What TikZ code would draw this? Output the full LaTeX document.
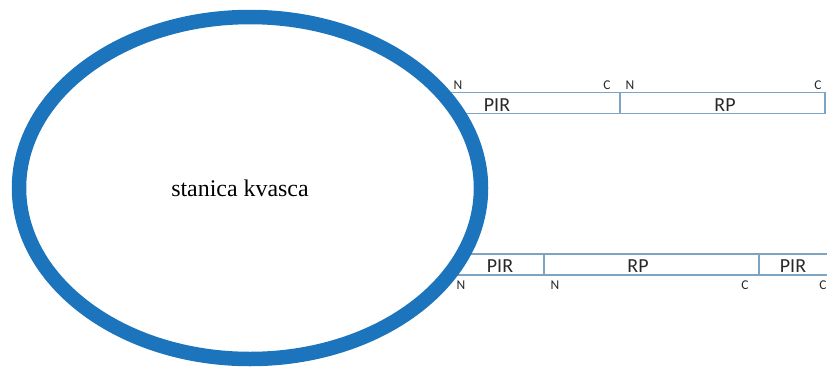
\documentclass[tikz,border=0pt]{standalone}
\usepackage{fontspec}
\setmainfont{Liberation Serif}
\newfontfamily\labfont{Carlito}
\definecolor{cellblue}{RGB}{28,117,188}
\definecolor{barline}{RGB}{125,165,195}
\definecolor{labtext}{RGB}{40,40,40}
\begin{document}
\begin{tikzpicture}[x=1bp,y=-1bp,
  seg/.style={draw=barline,line width=1.5bp,rectangle,inner sep=0pt,minimum height=21bp},
  dom/.style={font=\labfont\fontsize{20}{20}\selectfont,text=labtext,inner sep=0pt},
  term/.style={font=\labfont\fontsize{13.5}{13.5}\selectfont,text=labtext,inner sep=0pt},
  cell/.style={draw=cellblue,line width=14.5bp,fill=white}]
\useasboundingbox (0,0) rectangle (827,367);
% top chain
\node[seg,minimum width=180bp] (t1) at (530,103) {};
\node[seg,minimum width=205bp] (t2) at (722.5,103) {};
% bottom chain
\node[seg,minimum width=124bp] (b1) at (482,264.5) {};
\node[seg,minimum width=215bp] (b2) at (651.5,264.5) {};
\node[seg,minimum width=90bp] (b3) at (804,264.5) {};
% cell
\draw[cell] (250,188) ellipse [x radius=231, y radius=171];
\node[font=\fontsize{24}{24}\selectfont,inner sep=0pt] (cl) at (240,188) {stanica kvasca};
% domain labels
\node[dom] (tp) at (497,105) {PIR};
\node[dom] (tr) at (725,105) {RP};
\node[dom] (bp1) at (500,266) {PIR};
\node[dom] (br) at (638,266) {RP};
\node[dom] (bp2) at (793,266) {PIR};
% terminus labels
\node[term] (tn1) at (458,85) {N};
\node[term] (tc1) at (607,85) {C};
\node[term] (tn2) at (630,85) {N};
\node[term] (tc2) at (818,85) {C};
\node[term] (bn1) at (461,285) {N};
\node[term] (bn2) at (555,285) {N};
\node[term] (bc1) at (745,285) {C};
\node[term] (bc2) at (823,285) {C};
\end{tikzpicture}
\end{document}
